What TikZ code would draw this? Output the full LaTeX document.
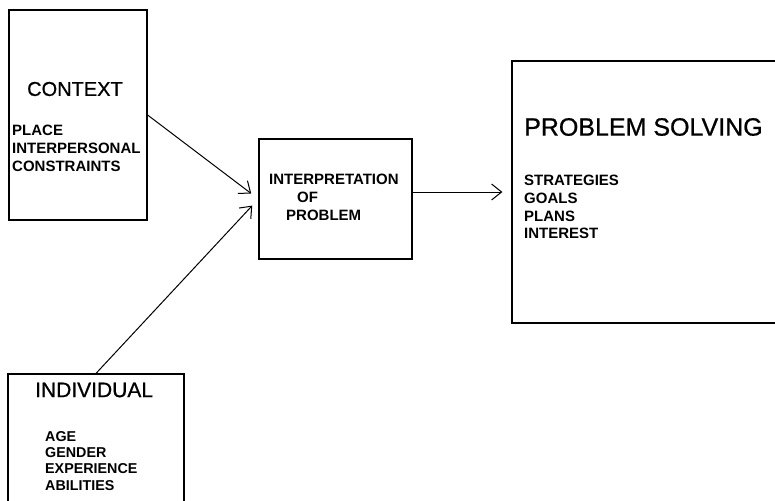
\documentclass[tikz,border=0pt]{standalone}
\usepackage{fontspec}
\setmainfont{Liberation Sans}
\newfontfamily\medsans[FakeBold=0.8]{Liberation Sans}
\usetikzlibrary{arrows.meta}
\begin{document}
\begin{tikzpicture}[x=1pt,y=-1pt,
  boxshape/.style={draw, line width=1.2pt, inner sep=0pt},
  item/.style={anchor=west, inner sep=0pt, font=\fontsize{15}{18}\selectfont\bfseries},
  title/.style={anchor=west, inner sep=0pt},
  arr/.style={line width=1pt, shorten >=9pt, -{Straight Barb[length=10pt,width=16pt,line width=1pt]}}]
\clip (0,0) rectangle (775,500);
\fill[white] (0,0) rectangle (775,500);
% boxes
\node[boxshape, minimum width=138pt, minimum height=210pt] (ctx) at (78,115) {};
\node[boxshape, minimum width=153pt, minimum height=120pt] (interp) at (335.5,199) {};
\node[boxshape, minimum width=288pt, minimum height=262pt] (ps) at (656,192) {};
\node[boxshape, minimum width=176pt, minimum height=146pt] (ind) at (96,447) {};
% context texts
\node[title, font=\medsans\fontsize{20}{24}\selectfont] (ctxt) at (27,89) {CONTEXT};
\node[item] (c1) at (12,130) {PLACE};
\node[item] (c2) at (12,148) {INTERPERSONAL};
\node[item] (c3) at (12,166) {CONSTRAINTS};
% interpretation texts
\node[item] (i1) at (269,179) {INTERPRETATION};
\node[item] (i2) at (297,197.5) {OF};
\node[item] (i3) at (286,215) {PROBLEM};
% problem solving texts
\node[title, font=\medsans\fontsize{25}{30}\selectfont] (pst) at (524,127) {PROBLEM SOLVING};
\node[item] (p1) at (524,180.5) {STRATEGIES};
\node[item] (p2) at (524,198) {GOALS};
\node[item] (p3) at (524,216) {PLANS};
\node[item] (p4) at (524,233.5) {INTEREST};
% individual texts
\node[title, font=\medsans\fontsize{21}{25}\selectfont] (indt) at (35,390) {INDIVIDUAL};
\node[item, font=\fontsize{14.3}{17}\selectfont\bfseries] (d1) at (45,437) {AGE};
\node[item, font=\fontsize{14.3}{17}\selectfont\bfseries] (d2) at (45,453) {GENDER};
\node[item, font=\fontsize{14.3}{17}\selectfont\bfseries] (d3) at (45,469) {EXPERIENCE};
\node[item, font=\fontsize{14.3}{17}\selectfont\bfseries] (d4) at (45,486) {ABILITIES};
% connectors
\draw[arr] (ctx.east) -- (interp.west);
\draw[arr] (ind.north) -- (interp.west);
\draw[arr] (interp.east |- ps.west) -- (ps.west);
\end{tikzpicture}
\end{document}
